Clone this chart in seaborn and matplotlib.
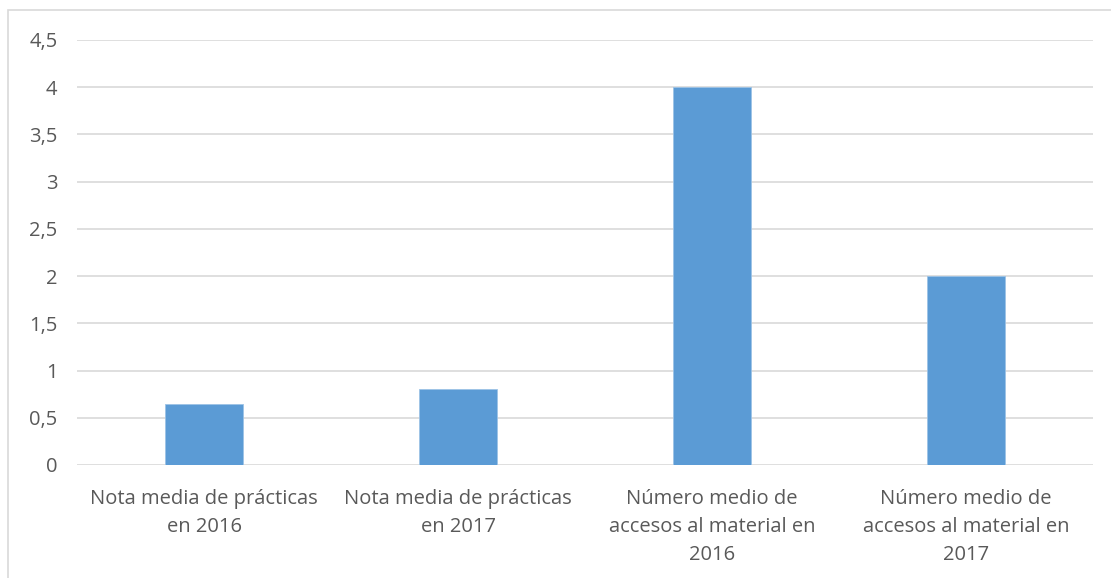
import matplotlib
matplotlib.use("Agg")
import matplotlib.pyplot as plt
import seaborn as sns
import pandas as pd
from matplotlib.patches import Rectangle
from matplotlib.ticker import FuncFormatter

categories = [
    "Nota media de prácticas\nen 2016",
    "Nota media de prácticas\nen 2017",
    "Número medio de\naccesos al material en\n2016",
    "Número medio de\naccesos al material en\n2017",
]
values = [0.65, 0.8, 4.0, 2.0]

data = pd.DataFrame({"cat": categories, "val": values})

sns.set_style("white")
plt.rcParams["font.family"] = ["Open Sans", "DejaVu Sans"]

fig = plt.figure(figsize=(11.11, 5.78), dpi=100)
ax = fig.add_axes([77 / 1111, 113 / 578, (1093 - 77) / 1111, (465 - 40) / 578])

sns.barplot(data=data, x="cat", y="val", color="#5B9BD5", width=0.31,
            saturation=1, ax=ax, zorder=3, edgecolor="#9DC3E6", linewidth=0.6)

ax.set_ylim(0, 4.5)
ax.set_yticks([i * 0.5 for i in range(10)])
ax.yaxis.set_major_formatter(FuncFormatter(lambda v, p: f"{v:g}".replace(".", ",")))
ax.grid(axis="y", color="#D9D9D9", linewidth=1.2, zorder=0)
ax.set_xlabel("")
ax.set_ylabel("")
for s in ax.spines.values():
    s.set_visible(False)
ax.tick_params(axis="both", length=0, labelsize=14.5, colors="#595959")
ax.tick_params(axis="y", pad=14)
ax.tick_params(axis="x", pad=17)
for t in ax.get_xticklabels():
    t.set_linespacing(1.55)

fig.patches.append(Rectangle((8 / 1111, -0.1), 1.0, 1.1 - 10 / 578, transform=fig.transFigure,
                             fill=False, edgecolor="#D9D9D9", linewidth=1.2))

fig.savefig("out.png", dpi=100)
